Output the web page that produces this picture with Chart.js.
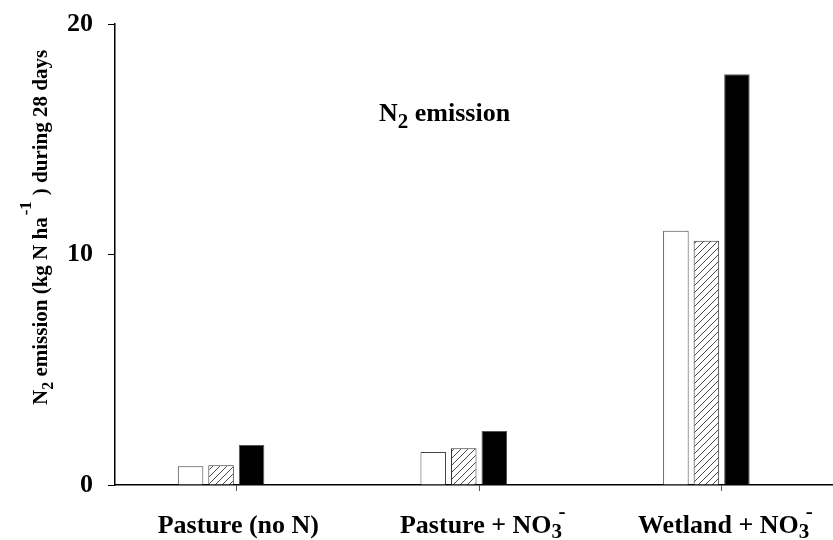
<!DOCTYPE html>
<html>
<head>
<meta charset="utf-8">
<script src="https://cdn.jsdelivr.net/npm/chart.js@4"></script>
<style>
  html, body { margin: 0; padding: 0; background: #fff; overflow: hidden; }
  #wrap { width: 833px; height: 540px; overflow: hidden; }
</style>
</head>
<body>
<div id="wrap"><canvas id="c" width="850" height="540"></canvas></div>
<script>
// datos
const categories = ["Pasture (no N)", "Pasture + NO3-", "Wetland + NO3-"];
const openBars = [0.81, 1.43, 11.03];
const hatchBars = [0.86, 1.59, 10.6];
const solidBars = [1.73, 2.34, 17.82];
const emptySlot = [null, null, null];
const yTicks = [0, 10, 20];

const SERIF = "'Liberation Serif', 'Times New Roman', serif";

// patron rayado
function hatchPattern() {
  const n = 7;
  const p = document.createElement("canvas");
  p.width = n; p.height = n;
  const g = p.getContext("2d");
  g.fillStyle = "#fff";
  g.fillRect(0, 0, n, n);
  g.strokeStyle = "#333";
  g.lineWidth = 0.9;
  g.beginPath();
  g.moveTo(-1, n + 1); g.lineTo(n + 1, -1);
  g.moveTo(-n - 1, 1); g.lineTo(1, -n - 1);
  g.moveTo(n - 1, 2 * n + 1); g.lineTo(2 * n + 1, n - 1);
  g.stroke();
  return document.getElementById("c").getContext("2d").createPattern(p, "repeat");
}

// texto con sub/superindices
function richWidth(ctx, segs) {
  let w = 0;
  segs.forEach(s => {
    ctx.font = "bold " + s.size + "px " + SERIF;
    if (!s.over) w += ctx.measureText(s.t).width + (s.gap || 0);
  });
  return w;
}
function drawRich(ctx, segs, x, y) {
  let cx = x, lastStart = x;
  segs.forEach(s => {
    ctx.font = "bold " + s.size + "px " + SERIF;
    const w = ctx.measureText(s.t).width;
    if (s.over) {
      ctx.fillText(s.t, lastStart + (s.dx || 0), y + (s.dy || 0));
    } else {
      cx += (s.gap || 0);
      ctx.fillText(s.t, cx, y + (s.dy || 0));
      lastStart = cx;
      cx += w;
    }
  });
}

const xLabelSegs = [
  [{t: "Pasture (no N)", size: 26}],
  [{t: "Pasture + NO", size: 26}, {t: "3", size: 21, dy: 5}, {t: "-", size: 21, dy: -15, over: true, dx: 7}],
  [{t: "Wetland + NO", size: 26}, {t: "3", size: 21, dy: 5}, {t: "-", size: 21, dy: -15, over: true, dx: 7}]
];

const textPlugin = {
  id: "textPlugin",
  afterDraw(chart) {
    const ctx = chart.ctx;
    const xs = chart.scales.x;
    ctx.save();
    ctx.fillStyle = "#000";
    ctx.textBaseline = "alphabetic";
    ctx.textAlign = "left";

    // etiquetas del eje x
    xLabelSegs.forEach((segs, i) => {
      const cx = xs.getPixelForValue(i);
      const w = richWidth(ctx, segs);
      drawRich(ctx, segs, cx - w / 2 + 2, 533);
    });

    // titulo
    drawRich(ctx, [
      {t: "N", size: 26},
      {t: "2", size: 21, dy: 7},
      {t: " emission", size: 26}
    ], 379, 121);

    // titulo del eje y
    ctx.translate(47, 405);
    ctx.rotate(-Math.PI / 2);
    drawRich(ctx, [
      {t: "N", size: 21},
      {t: "2", size: 16, dy: 6},
      {t: " emission (kg N ha", size: 21},
      {t: "-1", size: 17, dy: -16, gap: 2},
      {t: ") during 28 days", size: 21, gap: 6}
    ], 0, 0);
    ctx.restore();
  }
};

const ctx = document.getElementById("c").getContext("2d");

new Chart(ctx, {
  type: "bar",
  data: {
    labels: categories,
    datasets: [
      { data: openBars, backgroundColor: "#fff", borderColor: "#444", borderWidth: 1 },
      { data: hatchBars, backgroundColor: hatchPattern(), borderColor: "#333", borderWidth: 1 },
      { data: solidBars, backgroundColor: "#000", borderColor: "#555", borderWidth: 1 },
      { data: emptySlot, backgroundColor: "#fff", borderWidth: 0 }
    ]
  },
  options: {
    responsive: false,
    animation: false,
    layout: { padding: { top: 24, right: 7, left: 0, bottom: 0 } },
    datasets: {
      bar: { categoryPercentage: 0.503, barPercentage: 0.836 }
    },
    plugins: {
      legend: { display: false },
      tooltip: { enabled: false }
    },
    scales: {
      x: {
        offset: true,
        grid: { display: true, drawOnChartArea: false, offset: false, tickLength: 6, color: "#555", lineWidth: 1 },
        border: { display: true, color: "#000", width: 1.5 },
        ticks: { callback: () => "", padding: 0 },
        afterFit: s => { s.height = 55; s.paddingLeft = 0; s.paddingRight = 0; }
      },
      y: {
        min: 0,
        max: 20,
        afterBuildTicks: s => { s.ticks = yTicks.map(v => ({ value: v })); },
        grid: { display: true, drawOnChartArea: false, tickLength: 7, color: "#000", lineWidth: 1 },
        border: { display: true, color: "#000", width: 1.5 },
        ticks: {
          color: "#000",
          padding: 15,
          font: { family: SERIF, size: 26, weight: "bold" }
        },
        afterFit: s => { s.width = 115; s.paddingTop = 0; s.paddingBottom = 0; }
      }
    }
  },
  plugins: [textPlugin]
});
</script>
</body>
</html>
